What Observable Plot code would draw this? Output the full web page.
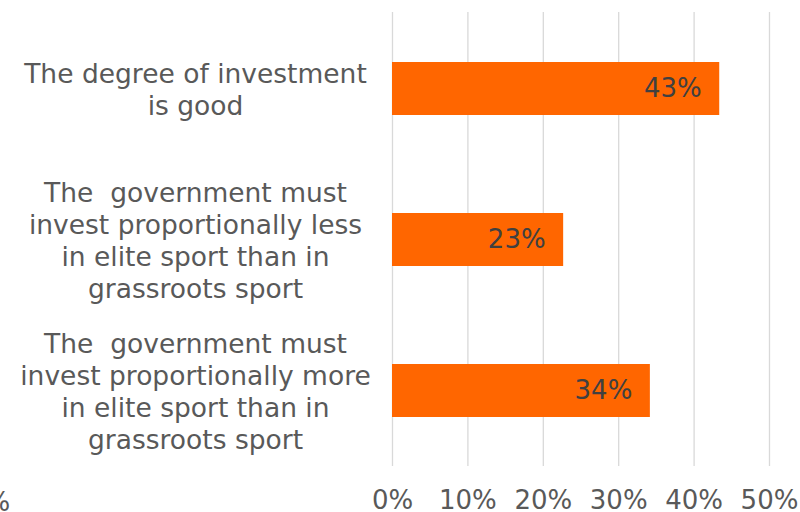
<!DOCTYPE html>
<html>
<head>
<meta charset="utf-8">
<script src="https://cdn.jsdelivr.net/npm/d3@7"></script>
<script src="https://cdn.jsdelivr.net/npm/@observablehq/plot@0.6"></script>
<style>
  html, body { margin: 0; padding: 0; background: #fff; }
  #chart { position: relative; width: 800px; height: 512px; overflow: hidden; }
  #stray { position: absolute; left: -31px; top: 487px; font: 26px "DejaVu Sans", Verdana, sans-serif; color: #595959; }
  svg text { white-space: pre; }
</style>
</head>
<body>
<div id="chart"><span id="stray">0%</span></div>
<script>
const categories = [
  "The degree of investment\nis good",
  "The  government must\ninvest proportionally less\nin elite sport than in\ngrassroots sport",
  "The  government must\ninvest proportionally more\nin elite sport than in\ngrassroots sport"
];
const values = [0.434, 0.227, 0.342];
const valueLabels = ["43%", "23%", "34%"];
const xTicks = [0, 0.1, 0.2, 0.3, 0.4, 0.5];

const data = categories.map((c, i) => ({cat: c, v: values[i], label: valueLabels[i]}));

const chart = Plot.plot({
  width: 800,
  height: 512,
  marginLeft: 392,
  marginRight: 31,
  marginTop: 12,
  marginBottom: 46,
  style: {fontFamily: "'DejaVu Sans', Verdana, sans-serif", background: "#fff"},
  x: {domain: [0, 0.5], ticks: xTicks},
  y: {domain: categories, paddingInner: 0.65, paddingOuter: 0.325, axis: null},
  marks: [
    Plot.gridX(xTicks, {stroke: "#d9d9d9", strokeOpacity: 1, strokeWidth: 1.3}),
    Plot.barX(data, {x: "v", y: "cat", fill: "#ff6600"}),
    Plot.text(data, {x: "v", y: "cat", text: "label", textAnchor: "end", dx: -18, fill: "#404040", fontSize: 26}),
    Plot.text(data, {y: "cat", text: "cat", frameAnchor: "left", textAnchor: "middle", dx: -197, lineHeight: 1.2, fill: "#595959", fontSize: 26.5}),
    Plot.axisX(xTicks, {tickSize: 0, tickPadding: 24, tickFormat: d => Math.round(d * 100) + "%", fontSize: 26, fill: "#595959", label: null})
  ]
});
document.getElementById("chart").appendChild(chart);
</script>
</body>
</html>
